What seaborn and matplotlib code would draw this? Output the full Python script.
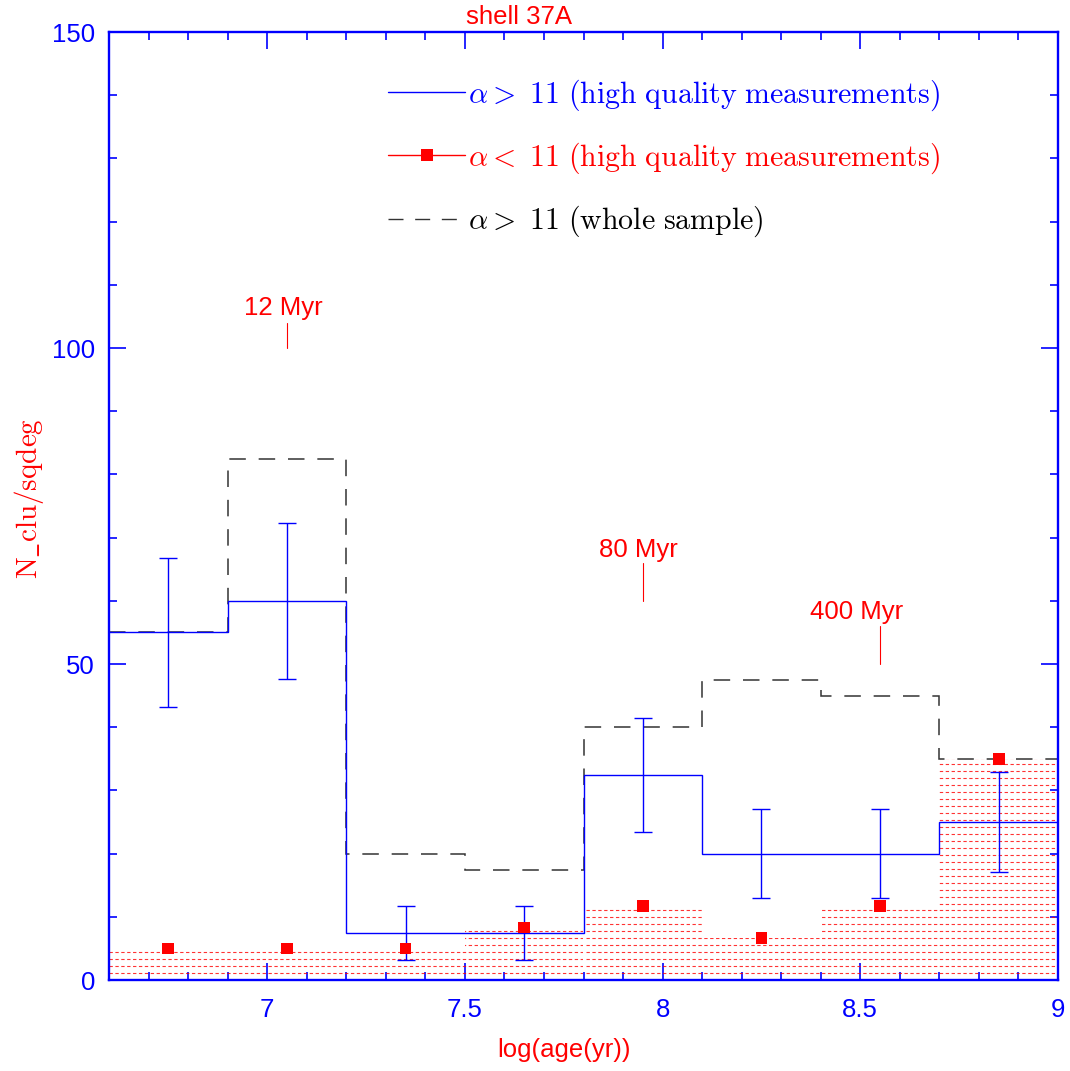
import numpy as np
import matplotlib
matplotlib.use("Agg")
import matplotlib.pyplot as plt
from matplotlib.lines import Line2D
from matplotlib.ticker import MultipleLocator
import matplotlib.transforms as mtransforms
import seaborn as sns

# log(age) bins and cluster surface densities per bin
bin_edges = [6.6, 6.9, 7.2, 7.5, 7.8, 8.1, 8.4, 8.7, 9.0]
bin_centers = [6.75, 7.05, 7.35, 7.65, 7.95, 8.25, 8.55, 8.85]
hq_old = [55.0, 60.0, 7.4, 7.4, 32.4, 20.0, 20.0, 25.0]        # alpha > 11, high quality
hq_old_err = [11.8, 12.3, 4.3, 4.3, 9.0, 7.0, 7.0, 7.9]
hq_young = [5.0, 5.0, 5.0, 8.3, 11.7, 6.7, 11.7, 35.0]        # alpha < 11, high quality
all_old = [55.0, 82.5, 20.0, 17.4, 40.0, 47.5, 45.0, 35.0]    # alpha > 11, whole sample

# age markers
age_mark_x = [7.05, 7.95, 8.55]
age_mark_lo = [100.0, 60.0, 50.0]
age_mark_hi = [104.0, 66.0, 56.0]
age_label_x = [7.04, 7.94, 8.49]
age_label_y = [105.2, 67.0, 57.1]
age_labels = ["12 Myr", "80 Myr", "400 Myr"]

x_ticks = [7, 7.5, 8, 8.5, 9]
x_tick_labels = ["7", "7.5", "8", "8.5", "9"]
y_ticks = [0, 50, 100, 150]
y_tick_labels = ["0", "50", "100", "150"]

legend_labels = [
    r"$\alpha{>}\ 11\ \mathrm{(high\ quality\ measurements)}$",
    r"$\alpha{<}\ 11\ \mathrm{(high\ quality\ measurements)}$",
    r"$\alpha{>}\ 11\ \mathrm{(whole\ sample)}$",
]

BLUE = "#0000ff"
RED = "#ff0000"
DASH = (0, (10.8, 8.4))

sns.set_theme(style="ticks")
plt.rcParams["font.family"] = ["Liberation Sans", "DejaVu Sans"]
plt.rcParams["mathtext.fontset"] = "cm"

fig = plt.figure(figsize=(10.70, 10.71), dpi=100)
ax = fig.add_axes([109 / 1070, 1 - 980 / 1071, 949 / 1070, 948 / 1071])
ax.set_facecolor("white")

# hatched histogram of the alpha < 11 sample (horizontal dotted hatching)
bars = ax.bar(bin_centers, hq_young, width=np.diff(bin_edges), fill=False,
              linewidth=0, zorder=1)
hatch_y = np.arange(0, 150, 1.1)
for bar in bars:
    hl = ax.hlines(hatch_y, bin_edges[0], bin_edges[-1], colors=RED, alpha=0.8,
                   linewidth=0.8, linestyles=[(0, (3.0, 2.3))], zorder=1)
    hl.set_clip_path(bar)

# whole-sample histogram (dashed) and high quality histogram (solid)
ax.stairs(all_old, bin_edges, baseline=None, color="#333333", linewidth=1.1,
          linestyle=DASH, zorder=2)
ax.stairs(hq_old, bin_edges, baseline=None, color=BLUE, linewidth=1.0, zorder=3)
ax.errorbar(bin_centers, hq_old, yerr=hq_old_err, fmt="none", ecolor=BLUE,
            elinewidth=1.0, capsize=6.5, capthick=1.0, zorder=3)

sns.scatterplot(x=bin_centers, y=hq_young, marker="s", s=72, color=RED,
                edgecolor="none", linewidth=0, ax=ax, zorder=4, legend=False)

# age markers
for x, lo, hi in zip(age_mark_x, age_mark_lo, age_mark_hi):
    ax.plot([x, x], [lo, hi], color=RED, linewidth=0.8)
for x, y, t in zip(age_label_x, age_label_y, age_labels):
    ax.text(x, y, t, color=RED, fontsize=18.5, ha="center", va="baseline")

ax.set_xlim(6.6, 9.0)
ax.set_ylim(0, 150)
ax.set_xticks(x_ticks, x_tick_labels)
ax.set_yticks(y_ticks, y_tick_labels)
ax.xaxis.set_minor_locator(MultipleLocator(0.1))
ax.yaxis.set_minor_locator(MultipleLocator(10))
ax.tick_params(which="both", direction="in", top=True, right=True,
               color=BLUE, labelcolor=BLUE, width=1.2, labelsize=18.5)
ax.tick_params(which="major", length=12)
ax.tick_params(which="minor", length=6)
ax.tick_params(axis="x", which="major", pad=13)
ax.tick_params(axis="y", which="major", pad=10)
for sp in ax.spines.values():
    sp.set_color(BLUE)
    sp.set_linewidth(1.7)

ax.set_xlabel("log(age(yr))", color=RED, fontsize=18.5, va="baseline")
ax.xaxis.set_label_coords(0.479, -0.0809)
ax.set_ylabel(r"$\mathrm{N\_clu/sqdeg}$", color=RED, fontsize=21, va="center")
ax.yaxis.set_label_coords(-0.0845, 0.508)

trans = mtransforms.blended_transform_factory(ax.transData, ax.transAxes)
ax.text(7.637, 1.0 + 8 / 948, "shell 37A", color=RED, fontsize=18.5,
        ha="center", va="baseline", transform=trans)

handles = [
    Line2D([], [], color=BLUE, linewidth=1.0),
    Line2D([], [], color=RED, linewidth=1.0, marker="s", markersize=8,
           markeredgewidth=0),
    Line2D([], [], color="#333333", linewidth=1.0, linestyle=DASH),
]
leg = ax.legend(handles, legend_labels, loc="upper left",
                bbox_to_anchor=(0.294, 0.952), frameon=False, fontsize=21.5,
                handlelength=2.58, handletextpad=0.1, labelspacing=0.93,
                borderpad=0, borderaxespad=0, numpoints=1)
for txt, c in zip(leg.get_texts(), [BLUE, RED, "black"]):
    txt.set_color(c)

fig.savefig("out.png", dpi=100, facecolor="white")
